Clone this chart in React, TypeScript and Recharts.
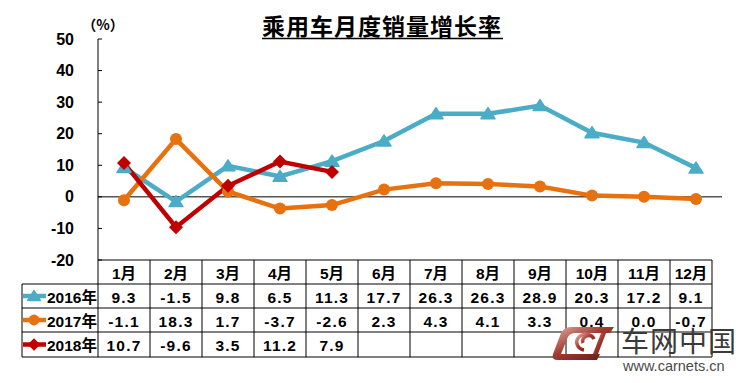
import React from 'react';
import { LineChart, Line, XAxis, YAxis, ReferenceLine } from 'recharts';

const months = ['1月', '2月', '3月', '4月', '5月', '6月', '7月', '8月', '9月', '10月', '11月', '12月'];
const growth2016 = [9.3, -1.5, 9.8, 6.5, 11.3, 17.7, 26.3, 26.3, 28.9, 20.3, 17.2, 9.1];
const growth2017 = [-1.1, 18.3, 1.7, -3.7, -2.6, 2.3, 4.3, 4.1, 3.3, 0.4, 0.0, -0.7];
const growth2018 = [10.7, -9.6, 3.5, 11.2, 7.9, null, null, null, null, null, null, null];
const yTicks = [-20, -10, 0, 10, 20, 30, 40, 50];

const series = [
    { key: 'y2016', label: '2016年', color: '#4BACC6', shape: 'triangle', values: growth2016 },
    { key: 'y2017', label: '2017年', color: '#E8710F', shape: 'circle', values: growth2017 },
    { key: 'y2018', label: '2018年', color: '#C00000', shape: 'diamond', values: growth2018 },
];

const data = months.map((m, i) => {
    const row: any = { month: m };
    series.forEach(s => { row[s.key] = s.values[i]; });
    return row;
});

// layout
const W = 751;
const H = 383;
const PLOT_LEFT = 98;
const PLOT_RIGHT = 722;
const PLOT_TOP = 39;
const PLOT_BOTTOM = 260;
const BAND = (PLOT_RIGHT - PLOT_LEFT) / months.length;
const ROWS = [260, 284, 308, 332, 357];
const LEGEND_LEFT = 22;
const LAST_TRIM = 10;

const numFont = '"Liberation Sans", Arial, "Noto Sans CJK SC", sans-serif';
const cjkFont = '"Liberation Sans", "Noto Sans CJK SC", sans-serif';

const Marker = ({ shape, cx, cy, color, size = 1 }: any) => {
    if (cx == null || cy == null) return null;
    if (shape === 'triangle') {
        const w = 7 * size, h = 11 * size;
        return <path d={`M${cx},${cy - h * 0.55} L${cx + w},${cy + h * 0.45} L${cx - w},${cy + h * 0.45} Z`} fill={color} stroke={color} strokeWidth={1.5} strokeLinejoin="round" />;
    }
    if (shape === 'circle') {
        return <circle cx={cx} cy={cy} r={6 * size} fill={color} />;
    }
    const r = 7 * size;
    return <path d={`M${cx},${cy - r} L${cx + r},${cy} L${cx},${cy + r} L${cx - r},${cy} Z`} fill={color} />;
};

const YTick = (props: any) => {
    const { x, y, payload } = props;
    return (
        <g>
            <line x1={PLOT_LEFT} x2={PLOT_LEFT + 4} y1={y} y2={y} stroke="#000" strokeWidth={1} />
            <text x={x} y={y} textAnchor="end" dominantBaseline="central"
                style={{ fontFamily: numFont, fontWeight: 700, fontSize: 16, fill: '#000' }}>
                {payload.value}
            </text>
        </g>
    );
};

const TableTick = (props: any) => {
    const { x, payload } = props;
    const i = props.index ?? payload.index ?? months.indexOf(payload.value);
    const isLast = i === months.length - 1;
    const left = x - BAND / 2;
    const right = isLast ? x + BAND / 2 - LAST_TRIM : x + BAND / 2;
    const cx = (left + right) / 2;
    const mid = (r: number) => (ROWS[r] + ROWS[r + 1]) / 2;
    return (
        <g>
            {ROWS.map((ry, r) => (
                <line key={'h' + r} x1={left} x2={right} y1={ry} y2={ry} stroke="#000" strokeWidth={1} />
            ))}
            <line x1={left} x2={left} y1={ROWS[0]} y2={ROWS[4]} stroke="#000" strokeWidth={1} />
            {isLast && <line x1={right} x2={right} y1={ROWS[0]} y2={ROWS[4]} stroke="#000" strokeWidth={1} />}
            <text x={cx} y={mid(0) + 1} textAnchor="middle" dominantBaseline="central"
                style={{ fontFamily: cjkFont, fontWeight: 700, fontSize: 15.5, fill: '#000' }}>
                {payload.value}
            </text>
            {series.map((s, r) => {
                const v = s.values[i];
                if (v == null) return null;
                return (
                    <text key={s.key} x={cx} y={mid(r + 1) + 1} textAnchor="middle" dominantBaseline="central"
                        style={{ fontFamily: numFont, fontWeight: 700, fontSize: 15.5, fill: '#000', letterSpacing: 1.2 }}>
                        {v.toFixed(1)}
                    </text>
                );
            })}
            {i === 0 && (
                <g>
                    {ROWS.slice(1).map((ry, r) => (
                        <line key={'lh' + r} x1={LEGEND_LEFT} x2={left} y1={ry} y2={ry} stroke="#000" strokeWidth={1} />
                    ))}
                    <line x1={LEGEND_LEFT} x2={LEGEND_LEFT} y1={ROWS[1]} y2={ROWS[4]} stroke="#000" strokeWidth={1} />
                    {series.map((s, r) => {
                        const my = mid(r + 1);
                        return (
                            <g key={'lg' + s.key}>
                                <line x1={LEGEND_LEFT + 1} x2={46} y1={my} y2={my} stroke={s.color} strokeWidth={4.5} />
                                <Marker shape={s.shape} cx={34} cy={my} color={s.color} size={0.9} />
                                <text x={47} y={my + 1} dominantBaseline="central"
                                    style={{ fontFamily: cjkFont, fontWeight: 700, fontSize: 15.5, fill: '#000' }}>
                                    {s.label}
                                </text>
                            </g>
                        );
                    })}
                </g>
            )}
        </g>
    );
};

const Watermark = () => (
    <g>
        <defs>
            <linearGradient id="logoGrad" x1="0" y1="0" x2="1" y2="1">
                <stop offset="0%" stopColor="#E2B2AA" />
                <stop offset="45%" stopColor="#A23A2E" />
                <stop offset="100%" stopColor="#5A1A14" />
            </linearGradient>
        </defs>
        <path d="M571,327 L614,327 L610,333 L575,333 Q569,333 567,339 L561,354 L600,354 L597,360 L558,360 Q551,360 553,354 L561,333 Q564,327 571,327 Z"
            fill="url(#logoGrad)" />
        <path d="M601,333 L606,333 L598,354 L593,354 Z" fill="url(#logoGrad)" />
        <path d="M584,350 A9,8 0 1 1 594,339 A5,4.5 0 1 0 583,343" fill="none" stroke="url(#logoGrad)" strokeWidth={3.5} />
        <text x={621} y={352} style={{ fontFamily: '"Noto Sans CJK SC", sans-serif', fontSize: 28, fill: '#3A3A3A', letterSpacing: 1 }}>
            车网中国
        </text>
        <text x={623} y={371} style={{ fontFamily: '"Liberation Sans", Arial, sans-serif', fontSize: 14.5, fill: '#4A4A4A' }}>
            www.carnets.cn
        </text>
    </g>
);

export default function App() {
    return (
        <div style={{ position: 'absolute', left: 0, top: 0, width: W, height: H, background: '#fff' }}>
            <LineChart width={W} height={H} data={data}
                margin={{ top: PLOT_TOP, right: W - PLOT_RIGHT, left: 0, bottom: H - PLOT_BOTTOM - 97 }}>
                <XAxis dataKey="month" scale="band" height={97} axisLine={false} tickLine={false}
                    tickSize={0} tickMargin={0} interval={0} tick={<TableTick />} />
                <YAxis type="number" domain={[-20, 50]} ticks={yTicks} width={PLOT_LEFT}
                    axisLine={{ stroke: '#000', strokeWidth: 1 }} tickLine={false}
                    tickSize={0} tickMargin={24} interval={0} tick={<YTick />} />
                <ReferenceLine y={0} stroke="#000" strokeWidth={1} />
                {series.map(s => (
                    <Line key={s.key} dataKey={s.key} type="linear" stroke={s.color} strokeWidth={4.5}
                        isAnimationActive={false} connectNulls={false}
                        dot={(p: any) => <Marker key={s.key + p.index} shape={s.shape} cx={p.cx} cy={p.cy} color={s.color} />}
                        activeDot={false} />
                ))}
            </LineChart>
            <svg width={W} height={H} style={{ position: 'absolute', left: 0, top: 0, pointerEvents: 'none' }}>
                <text x={382} y={35} textAnchor="middle"
                    style={{ fontFamily: '"Noto Sans CJK SC", sans-serif', fontWeight: 700, fontSize: 23, fill: '#000', letterSpacing: 1 }}>
                    乘用车月度销量增长率
                </text>
                <line x1={262} x2={503} y1={38.5} y2={38.5} stroke="#000" strokeWidth={1.5} />
                <text x={103} y={24} textAnchor="middle" dominantBaseline="central"
                    style={{ fontFamily: '"Noto Sans CJK SC", sans-serif', fontWeight: 700, fontSize: 14, fill: '#000' }}>
                    （%）
                </text>
                <Watermark />
            </svg>
        </div>
    );
}
